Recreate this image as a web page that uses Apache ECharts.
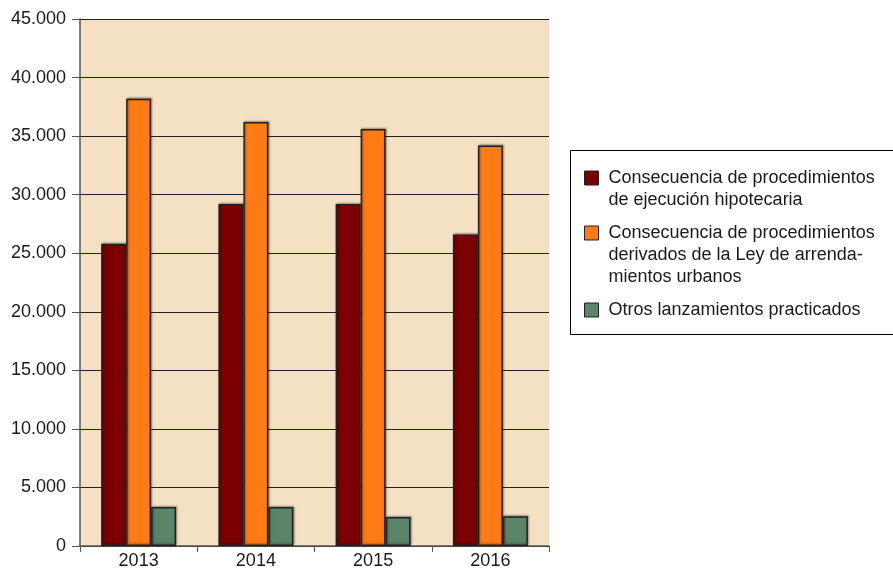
<!DOCTYPE html>
<html>
<head>
<meta charset="utf-8">
<title>Lanzamientos practicados</title>
<script src="https://cdn.jsdelivr.net/npm/echarts@6/dist/echarts.min.js"></script>
<style>
    html, body { margin: 0; padding: 0; background: #fff; }
    #chart { width: 893px; height: 568px; }
</style>
</head>
<body>
<div id="chart"></div>
<script>
// años
var years = ['2013', '2014', '2015', '2016'];

// nombres de las series (con saltos de linea como en la leyenda)
var seriesNames = [
    'Consecuencia de procedimientos\nde ejecución hipotecaria',
    'Consecuencia de procedimientos\nderivados de la Ley de arrenda-\nmientos urbanos',
    'Otros lanzamientos practicados'
];

var hipotecaria = [25800, 29200, 29200, 26600];
var arrendamientos = [38200, 36200, 35600, 34200];
var otros = [3330, 3330, 2480, 2540];

var yMin = 0;
var yMax = 45000;
var yStep = 5000;

var colors = ['#7d0000', '#ff7b15', '#5b8569'];
var fontFamily = '"Liberation Sans", Arial, sans-serif';

function miles(v) {
    return String(v).replace(/\B(?=(\d{3})+(?!\d))/g, '.');
}

// la leyenda centra el icono en el bloque de texto: se añaden lineas vacias
// para que el icono quede a la altura de la primera linea
function legendText(name) {
    var n = name.split('\n').length;
    var pre = new Array(n).join('\n');
    if (n === 1) {
        return '\n\n' + name + '\n\n';
    }
    return pre + name;
}

var chart = echarts.init(document.getElementById('chart'));

var barStyle = function (c) {
    return {
        color: c,
        borderColor: '#222',
        borderWidth: 1.5,
        shadowColor: 'rgba(0,0,0,0.35)',
        shadowBlur: 2,
        shadowOffsetX: 1,
        shadowOffsetY: -1
    };
};

var option = {
    animation: false,
    textStyle: { fontFamily: fontFamily },
    grid: {
        left: 80,
        right: 344,
        top: 19,
        bottom: 22,
        outerBoundsMode: 'none',
        show: true,
        backgroundColor: '#f4e1c3',
        borderWidth: 0
    },
    // marco de la leyenda
    graphic: [{
        type: 'rect',
        left: 568,
        top: 148,
        shape: { width: 340, height: 184 },
        style: { fill: 'none', stroke: '#000', lineWidth: 1 }
    }],
    legend: {
        orient: 'vertical',
        left: 584,
        top: 145,
        padding: 0,
        itemGap: -33,
        itemWidth: 14,
        itemHeight: 14,
        icon: 'rect',
        itemStyle: { borderColor: '#222', borderWidth: 1 },
        formatter: legendText,
        textStyle: { fontSize: 18, color: '#1a1a1a', lineHeight: 22, padding: [0, 0, 0, 5], fontFamily: fontFamily },
        data: seriesNames
    },
    xAxis: {
        type: 'category',
        data: years,
        axisLine: { lineStyle: { color: '#555', width: 1.5 } },
        axisTick: { show: true, length: 6, lineStyle: { color: '#555' } },
        axisLabel: { color: '#1a1a1a', fontSize: 18, margin: 6 }
    },
    yAxis: {
        type: 'value',
        min: yMin,
        max: yMax,
        interval: yStep,
        axisLine: { show: true, lineStyle: { color: '#555', width: 1.5 } },
        axisTick: { show: true, length: 8, lineStyle: { color: '#555' } },
        axisLabel: { color: '#1a1a1a', fontSize: 18, margin: 14, formatter: miles },
        splitLine: { show: true, lineStyle: { color: '#222', width: 1 } }
    },
    series: [
        {
            name: seriesNames[0],
            type: 'bar',
            barWidth: 25,
            barGap: '0%',
            itemStyle: barStyle(colors[0]),
            data: hipotecaria
        },
        {
            name: seriesNames[1],
            type: 'bar',
            barWidth: 25,
            barGap: '0%',
            itemStyle: barStyle(colors[1]),
            data: arrendamientos
        },
        {
            name: seriesNames[2],
            type: 'bar',
            barWidth: 25,
            barGap: '0%',
            itemStyle: barStyle(colors[2]),
            data: otros
        }
    ]
};

chart.setOption(option);
</script>
</body>
</html>
